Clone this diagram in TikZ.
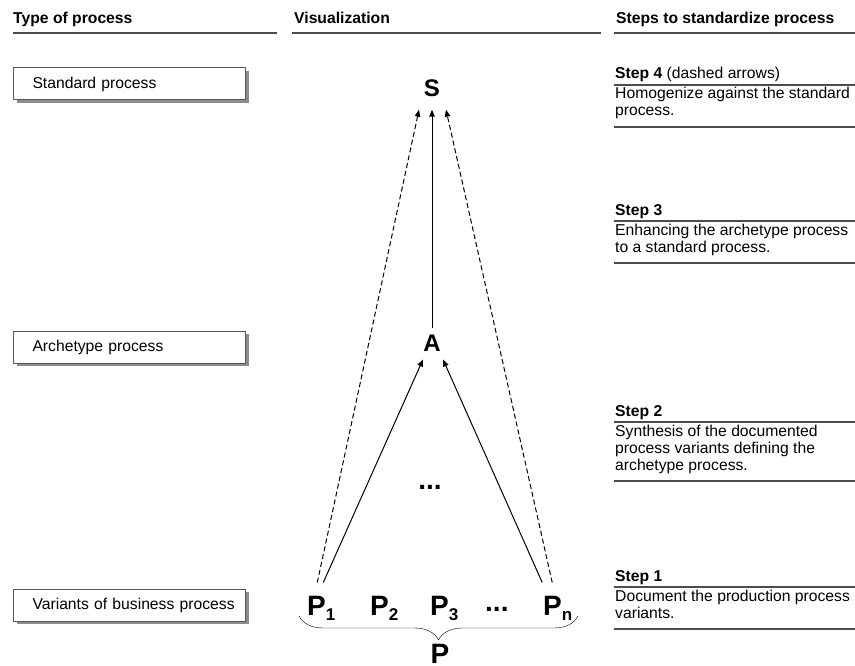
\documentclass[tikz,border=0pt]{standalone}
\usepackage{fontspec}
\setmainfont{Liberation Sans}
\usepackage{xcolor}
\usepackage{tikz}
\usetikzlibrary{arrows, arrows.meta, positioning, shadows, decorations.pathreplacing}
\definecolor{rulegray}{gray}{0.3}
\definecolor{boxgray}{gray}{0.35}
\definecolor{shadowgray}{gray}{0.55}
\tikzstyle{head} = [anchor=base west, inner sep=0, font=\fontsize{15.7}{17}\selectfont\bfseries]
\tikzstyle{steptext} = [anchor=base west, inner sep=0, align=left, font=\fontsize{15.7}{17}\selectfont]
\tikzstyle{typebox} = [rectangle, draw=boxgray, line width=1pt, fill=white, minimum width=232pt, minimum height=32pt, text width=216pt, inner xsep=8pt, align=left, anchor=west, font=\fontsize{15.7}{17}\selectfont, execute at begin node=\hspace*{11pt}, drop shadow={shadow xshift=3pt, shadow yshift=-3pt, fill=shadowgray, opacity=1}]
\tikzstyle{rule} = [draw=rulegray, line width=1.2pt]
\tikzstyle{big} = [inner sep=0, font=\fontsize{24}{24}\selectfont\bfseries]
\tikzstyle{var} = [anchor=base west, inner sep=0, font=\fontsize{28}{28}\selectfont\bfseries]
\tikzstyle{arrow} = [line width=1pt,->,>={Triangle[length=7pt,width=5.5pt]}]
\tikzstyle{darrow} = [arrow, dash pattern=on 5pt off 3pt]
\newcommand{\psub}[1]{\raisebox{-5pt}{\fontsize{17}{17}\selectfont #1}}

\begin{document}
\begin{tikzpicture}[x=1pt, y=-1pt]
\useasboundingbox (0,0) rectangle (855,666);

% column heads
\node (hType) [head] at (13,24) {Type of process};
\node (hVis) [head] at (294,24) {Visualization};
\node (hSteps) [head] at (616,24) {Steps to standardize process};
\draw [rule] (13,33) -- (277,33);
\draw [rule] (292,33) -- (601,33);
\draw [rule] (614,33) -- (855,33);

% types
\node (tStd) [typebox] at (13,84) {Standard process};
\node (tArch) [typebox] at (13,347) {Archetype process};
\node (tVar) [typebox] at (13,605) {Variants of business process};

% visualization
\node (S) [big] at (432,88) {S};
\node (A) [big] at (432,343) {A};
\node (dotsA) [var, anchor=center] at (430,487) {...};
\node (P1) [var] at (307,615) {P\psub{1}};
\node (P2) [var] at (370,615) {P\psub{2}};
\node (P3) [var] at (430,615) {P\psub{3}};
\node (dotsP) [var] at (485,611) {...};
\node (Pn) [var] at (543,615) {P\psub{n}};
\node (P) [var, anchor=base] at (440,663) {P};
\draw [decorate, decoration={brace, mirror, amplitude=24pt}] (299,616) -- (578,616);

\draw [arrow] ([shift={(0,-7)}]A.north) -- ([shift={(0,13)}]S.south);
\draw [arrow] ([shift={(2,-13)}]P1.north) -- ([shift={(-9,8)}]A.south);
\draw [arrow] ([shift={(-15.5,-13)}]Pn.north) -- ([shift={(11,8)}]A.south);
\draw [darrow] ([shift={(-4,-13)}]P1.north) -- ([shift={(-13,13)}]S.south);
\draw [darrow] ([shift={(-5.5,-13)}]Pn.north) -- ([shift={(14,13)}]S.south);

% steps
\node (st4) [steptext] at (615,79) {\textbf{Step 4} (dashed arrows)};
\draw [rule] (614,85) -- (855,85);
\node (tx4) [steptext] at (615,116) {Homogenize against the standard\\process.};
\draw [rule] (614,127) -- (855,127);

\node (st3) [steptext] at (615,215) {\textbf{Step 3}};
\draw [rule] (614,221) -- (855,221);
\node (tx3) [steptext] at (615,252) {Enhancing the archetype process\\to a standard process.};
\draw [rule] (614,263) -- (855,263);

\node (st2) [steptext] at (615,416) {\textbf{Step 2}};
\draw [rule] (614,422) -- (855,422);
\node (tx2) [steptext] at (615,470) {Synthesis of the documented\\process variants defining the\\archetype process.};
\draw [rule] (614,481) -- (855,481);

\node (st1) [steptext] at (615,581) {\textbf{Step 1}};
\draw [rule] (614,587) -- (855,587);
\node (tx1) [steptext] at (615,618) {Document the production process\\variants.};
\draw [rule] (614,629) -- (855,629);
\end{tikzpicture}
\end{document}
